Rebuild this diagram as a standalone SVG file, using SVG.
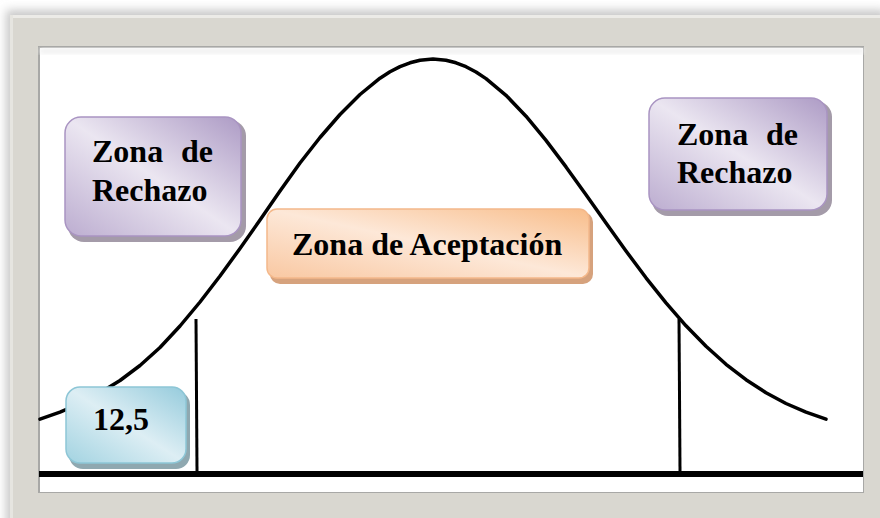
<svg xmlns="http://www.w3.org/2000/svg" width="880" height="518" viewBox="0 0 880 518">
<defs>
<style>
.t{font-family:"Liberation Serif","Times New Roman",serif;font-weight:bold;font-size:32px;fill:#000}
.ln{fill:none;stroke:#000;stroke-linecap:round;stroke-linejoin:round}
</style>
<linearGradient id="gP" x1="1" y1="0" x2="0" y2="1">
<stop offset="0" stop-color="#ad9bc5"/><stop offset="0.5" stop-color="#ebe6f1"/><stop offset="1" stop-color="#bcadd0"/>
</linearGradient>
<linearGradient id="gO" x1="1" y1="0" x2="0" y2="1">
<stop offset="0" stop-color="#f8bd8a"/><stop offset="0.5" stop-color="#fde8d8"/><stop offset="1" stop-color="#f9c8a2"/>
</linearGradient>
<linearGradient id="gB" x1="1" y1="0" x2="0" y2="1">
<stop offset="0" stop-color="#95cbdc"/><stop offset="0.5" stop-color="#ddeef4"/><stop offset="1" stop-color="#a2d3e1"/>
</linearGradient>
<filter id="fs" x="-5%" y="-5%" width="110%" height="110%"><feGaussianBlur stdDeviation="5"/></filter>
<filter id="is" x="-5%" y="-5%" width="110%" height="110%"><feGaussianBlur stdDeviation="2"/></filter>
</defs>
<rect width="880" height="518" fill="#ffffff"/>
<g id="frame">
<rect x="6" y="10" width="880" height="520" fill="#c8c8c8" filter="url(#fs)"/>
<rect x="10" y="15" width="870" height="503" fill="#d9d7d0"/>
<rect x="10" y="15" width="870" height="3" fill="#ecebe7"/>
<rect x="10" y="15" width="3" height="503" fill="#e6e5e0"/>
<rect x="38" y="46" width="826" height="447" fill="#a8a8a6"/>
<rect x="40" y="48" width="823" height="444" fill="#ffffff"/>
<rect x="40" y="48" width="823" height="6" fill="#f2f2f2" filter="url(#is)"/>
</g>
<g id="connectors">
<path class="ln" stroke-width="3.5" d="M40,419.2 L60,412.2 L80,403.5 L100,392.7 L120,380.5 L140,365.5 L160,347.5 L180,326 L200,302 L220,276 L240,248.5 L260,220 L280,191 L300,163 L320,137.5 L340,114.5 L360,94.5 L380,78.2 L390,71.8 L400,66.6 L410,62.8 L420,60.2 L433,59 L446,60.2 L456,62.8 L466,66.7 L476,72 L486,78.6 L506,95.3 L526,116.2 L546,140.4 L566,166.9 L586,194.7 L606,223.1 L626,251 L646,277.8 L666,302.8 L686,325.8 L706,346.3 L726,364.3 L746,379.7 L766,392.7 L786,403.5 L806,412.2 L826,419.2"/>
<line x1="196" y1="319" x2="197" y2="471" stroke="#000" stroke-width="3"/>
<line x1="679" y1="319" x2="680" y2="471" stroke="#000" stroke-width="3"/>
<line x1="39" y1="474" x2="863" y2="474" stroke="#000" stroke-width="6"/>
</g>
<g id="rechazo-izq">
<rect x="68" y="120" width="178" height="122" rx="16" fill="#a49ba9"/>
<rect x="65" y="117" width="176" height="119" rx="16" fill="url(#gP)" stroke="#a994c2" stroke-width="1.5"/>
<text class="t" x="92" y="162">Zona</text>
<text class="t" x="213" y="162" text-anchor="end">de</text>
<text class="t" x="92" y="201">Rechazo</text>
</g>
<g id="rechazo-der">
<rect x="652" y="101" width="180" height="115" rx="16" fill="#a49ba9"/>
<rect x="649" y="98" width="178" height="112" rx="16" fill="url(#gP)" stroke="#a994c2" stroke-width="1.5"/>
<text class="t" x="677" y="145">Zona</text>
<text class="t" x="798" y="145" text-anchor="end">de</text>
<text class="t" x="677" y="183">Rechazo</text>
</g>
<g id="aceptacion">
<rect x="270" y="212" width="323" height="72" rx="10" fill="#d6a27d"/>
<rect x="267" y="209" width="322" height="69" rx="10" fill="url(#gO)" stroke="#f4b88a" stroke-width="1.5"/>
<text class="t" x="292" y="255">Zona de Aceptación</text>
</g>
<g id="valor">
<rect x="69" y="391" width="121" height="78" rx="14" fill="#8fa8b0"/>
<rect x="66" y="387" width="120" height="76" rx="14" fill="url(#gB)" stroke="#8dc6d6" stroke-width="1.5"/>
<text class="t" x="93" y="430">12,5</text>
</g>
</svg>
